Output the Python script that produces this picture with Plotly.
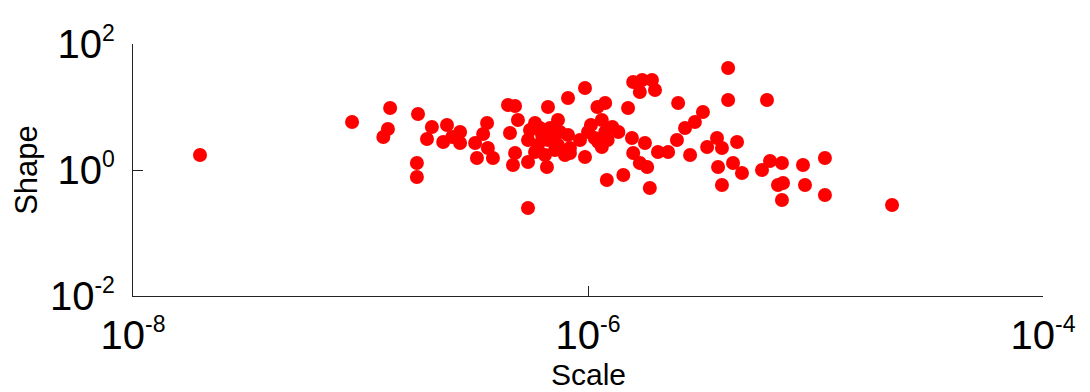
import plotly.graph_objects as go

scale = [1.97e-8, 9.18e-8, 1.26e-7, 1.32e-7, 1.35e-7, 1.79e-7, 1.77e-7, 1.77e-7, 2.06e-7, 1.96e-7,
         2.40e-7, 2.31e-7, 2.53e-7, 2.74e-7, 2.74e-7, 3.19e-7, 3.25e-7, 3.60e-7, 3.46e-7, 3.63e-7,
         3.82e-7, 4.45e-7, 4.78e-7, 4.92e-7, 4.54e-7, 4.78e-7, 4.68e-7, 5.45e-7, 5.45e-7, 5.85e-7,
         6.67e-7, 6.60e-7, 7.38e-7, 8.17e-7, 9.70e-7, 5.56e-7, 6.15e-7, 6.81e-7, 7.53e-7, 8.17e-7,
         5.45e-7, 6.03e-7, 6.67e-7, 7.38e-7, 8.33e-7, 5.85e-7, 6.47e-7, 7.16e-7, 7.92e-7, 6.28e-7,
         6.95e-7, 8.33e-7, 9.22e-7, 9.70e-7, 1.00e-6, 1.10e-6, 1.11e-6, 1.19e-6, 1.15e-6, 1.21e-6,
         1.19e-6, 1.36e-6, 1.22e-6, 1.15e-6, 1.50e-6, 1.56e-6, 1.58e-6, 1.78e-6, 1.69e-6, 1.82e-6,
         1.43e-6, 1.87e-6, 1.58e-6, 1.73e-6, 1.91e-6, 1.69e-6, 1.97e-6, 2.03e-6, 2.25e-6, 2.46e-6,
         2.49e-6, 2.67e-6, 2.81e-6, 2.95e-6, 3.20e-6, 3.34e-6, 3.69e-6, 3.88e-6, 3.73e-6, 3.88e-6,
         4.13e-6, 4.13e-6, 4.52e-6, 4.34e-6, 4.75e-6, 5.82e-6, 6.12e-6, 6.31e-6, 7.12e-6, 6.84e-6,
         7.20e-6, 7.12e-6, 8.81e-6, 8.99e-6, 1.10e-5, 1.10e-5, 2.17e-5, 1.03e-6, 1.07e-6, 1.28e-6]

shape = [1.73, 5.78, 3.34, 4.47, 9.64, 7.74, 1.29, 0.774, 4.81, 3.10,
         5.18, 2.78, 3.34, 4.01, 2.68, 2.68, 1.55, 5.57, 3.73, 2.24,
         1.55, 10.76, 10.37, 6.22, 3.87, 1.86, 1.20, 1.34, 0.249, 5.57,
         10.0, 1.116, 6.22, 13.9, 20.0, 4.31, 4.64, 4.64, 4.01, 3.59,
         2.99, 2.49, 2.99, 2.49, 2.24, 1.93, 1.73, 2.08, 1.73, 3.59,
         3.22, 1.86, 2.99, 1.61, 4.01, 10.0, 2.78, 11.6, 6.22, 0.694,
         4.01, 4.01, 2.99, 2.32, 9.64, 3.22, 1.86, 2.68, 1.29, 1.116,
         0.833, 0.518, 24.9, 26.8, 26.8, 17.3, 18.6, 1.93, 1.93, 2.99,
         11.6, 4.64, 1.73, 5.78, 8.33, 2.32, 3.22, 2.24, 1.116, 0.578,
         41.6, 12.9, 2.78, 1.29, 0.896, 1.0, 12.9, 1.39, 1.29, 0.578,
         0.622, 0.334, 1.20, 0.578, 1.55, 0.401, 0.278, 5.18, 3.22, 4.81]

x_tickvals = [1e-8, 1e-6, 1e-4]
x_ticktext = ["10<sup><span style='font-size:23px'>-8</span></sup>",
              "10<sup><span style='font-size:23px'>-6</span></sup>",
              "10<sup><span style='font-size:23px'>-4</span></sup>"]
y_tickvals = [1e-2, 1e0, 1e2]
y_ticktext = ["10<sup><span style='font-size:23px'>-2</span></sup>",
              "10<sup><span style='font-size:23px'>0</span></sup>",
              "10<sup><span style='font-size:23px'>2</span></sup>"]
x_title = "Scale"
y_title = "Shape"

FONT = "Arial, Liberation Sans, sans-serif"

fig = go.Figure()
fig.add_trace(go.Scatter(
    x=scale, y=shape, mode="markers",
    marker=dict(color="#ff0000", size=14, line=dict(width=0)),
    showlegend=False, cliponaxis=False,
))

axis_common = dict(
    type="log", showgrid=False, zeroline=False, showline=True,
    linecolor="#222222", linewidth=1.3, ticks="inside", ticklen=10,
    tickwidth=1.2, tickcolor="#222222", mirror=False,
    tickfont=dict(family=FONT, size=40, color="#000000"),
)

# page body has an 8px default margin, so the figure is offset by 8px
fig.update_layout(
    width=1082, height=384,
    margin=dict(l=125, r=47, t=36, b=96),
    paper_bgcolor="white", plot_bgcolor="white",
    font=dict(family=FONT, color="#000000"),
    xaxis=dict(axis_common, range=[-8, -4], tickvals=x_tickvals, ticktext=x_ticktext,
               ticklabelstandoff=4, automargin=False),
    yaxis=dict(axis_common, range=[-2, 2], tickvals=y_tickvals, ticktext=y_ticktext,
               ticklabelstandoff=9,
               title=dict(text=y_title, font=dict(family=FONT, size=31), standoff=3),
               automargin=False),
    annotations=[dict(text=x_title, xref="paper", yref="paper", x=0.5, y=-0.31,
                      xanchor="center", yanchor="middle", showarrow=False,
                      font=dict(family=FONT, size=30, color="#000000"))],
)

fig.write_html("out.html")
